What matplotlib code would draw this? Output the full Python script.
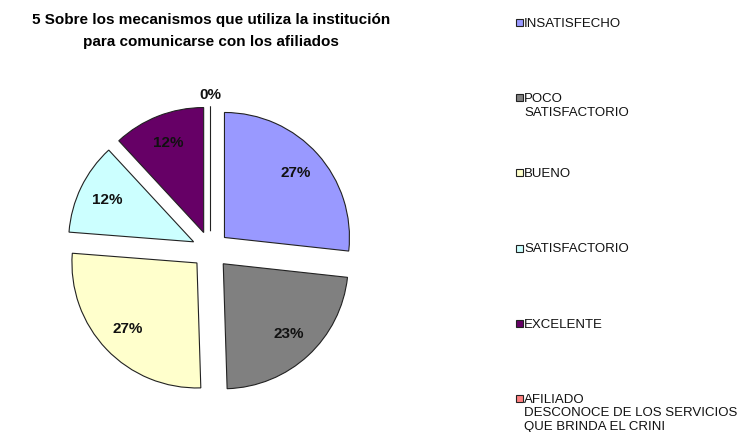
import matplotlib
matplotlib.use("Agg")
import matplotlib.pyplot as plt
from matplotlib.patches import Rectangle
import numpy as np

plt.rcParams["font.family"] = ["Liberation Sans", "DejaVu Sans"]

# data
categories = [
    "INSATISFECHO",
    "POCO\nSATISFACTORIO",
    "BUENO",
    "SATISFACTORIO",
    "EXCELENTE",
    "AFILIADO\nDESCONOCE DE LOS SERVICIOS\nQUE BRINDA EL CRINI",
]
percent = [27, 23, 27, 12, 12, 0]
colors = ["#9999FF", "#808080", "#FFFFCC", "#CCFFFF", "#660066", "#FF8080"]

title = "5 Sobre los mecanismos que utiliza la institución\npara comunicarse con los afiliados"

W, H = 739, 432
fig = plt.figure(figsize=(W / 100, H / 100), dpi=100)

# pie axes, centre ~ (210, 250) px, radius ~125 px
cx, cy, r = 210.5, 250, 125
half = 1.25 * r
ax = fig.add_axes([(cx - half) / W, (H - cy - half) / H, 2 * half / W, 2 * half / H])

wedges, texts, autotexts = ax.pie(
    percent,
    colors=colors,
    startangle=90,
    counterclock=False,
    explode=[0.15] * len(percent),
    autopct="%1.0f%%",
    pctdistance=0.77,
    wedgeprops=dict(edgecolor="#222222", linewidth=0.8),
    textprops=dict(fontsize=11, fontweight="bold", color="#111111"),
)
ax.set_aspect("equal")

# zero slice: its label sits just outside the pie
for w, t, p in zip(wedges, autotexts, percent):
    if p == 0:
        ang = np.deg2rad((w.theta1 + w.theta2) / 2)
        x0, y0 = w.center
        t.set_position((x0 + 1.09 * np.cos(ang), y0 + 1.09 * np.sin(ang)))

fig.text(211 / W, 1 - 13 / H, title, ha="center", va="top",
         fontsize=11, fontweight="bold", linespacing=1.75)

# legend on the right, evenly spaced entries
leg_y0, leg_step = 22.5, 75.2
for i, (lab, col) in enumerate(zip(categories, colors)):
    yc = leg_y0 + i * leg_step
    fig.patches.append(Rectangle((516 / W, 1 - (yc + 3.5) / H), 7 / W, 7 / H,
                                 transform=fig.transFigure, facecolor=col,
                                 edgecolor="#222222", linewidth=0.8))
    fig.text(524 / W, 1 - (yc - 4.8) / H, lab, ha="left", va="top",
             fontsize=9.5, linespacing=1.19, color="#111111")

fig.savefig("out.png", dpi=100)
